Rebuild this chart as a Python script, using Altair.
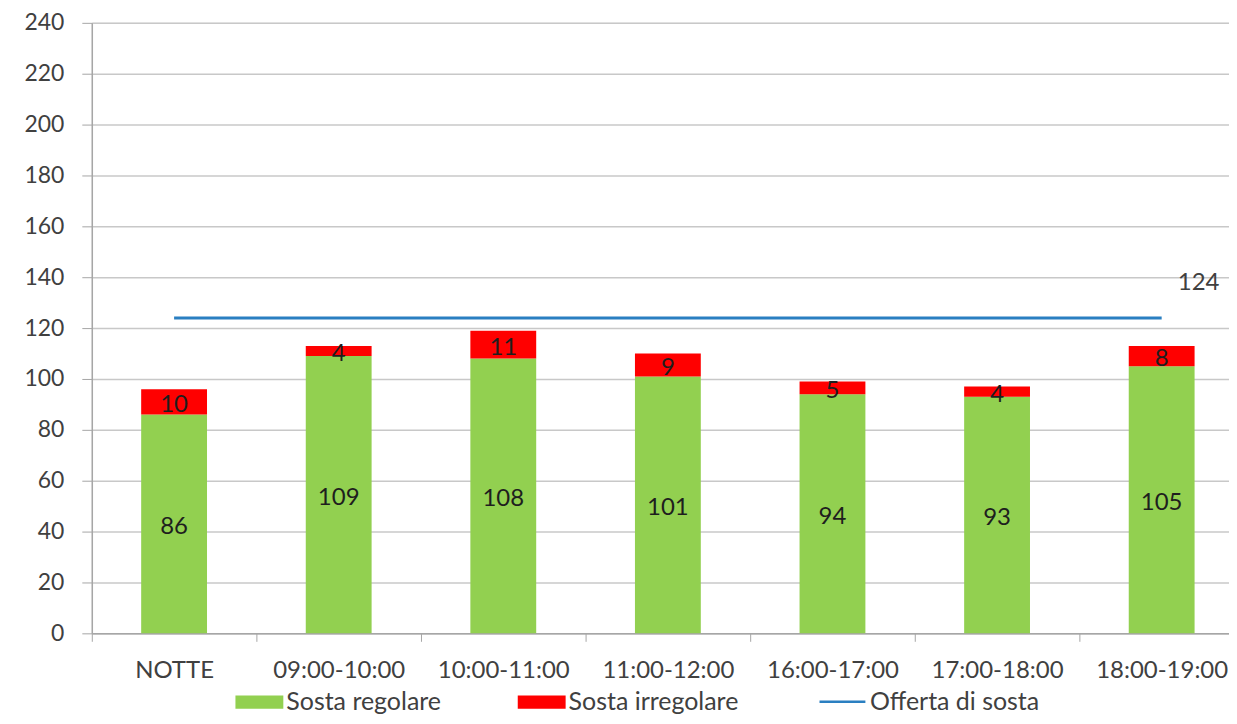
import altair as alt
import pandas as pd

categorie = ["NOTTE", "09:00-10:00", "10:00-11:00", "11:00-12:00",
             "16:00-17:00", "17:00-18:00", "18:00-19:00"]
sosta_regolare = [86, 109, 108, 101, 94, 93, 105]
sosta_irregolare = [10, 4, 11, 9, 5, 4, 8]
offerta_sosta = [124, 124, 124, 124, 124, 124, 124]
y_ticks = list(range(0, 241, 20))

serie_nomi = ["Sosta regolare", "Sosta irregolare"]
serie_colori = ["#92D050", "#FF0000"]

rows = []
for c, r, i in zip(categorie, sosta_regolare, sosta_irregolare):
    rows.append({"cat": c, "serie": serie_nomi[0], "valore": r, "ordine": 0})
    rows.append({"cat": c, "serie": serie_nomi[1], "valore": i, "ordine": 1})
df = pd.DataFrame(rows)
df_line = pd.DataFrame({"cat": categorie, "valore": offerta_sosta, "serie": ["Offerta di sosta"] * len(categorie)})

FONT = "Lato"
FS = 24
FSL = 25
W, H = 1140, 612

x_enc = alt.X("cat:N", sort=categorie,
              scale=alt.Scale(range=[0, 1155], paddingInner=0, paddingOuter=0),
              axis=alt.Axis(title=None, labelAngle=0, labelFontSize=FS, labelColor="#404040",
                            labelFont=FONT, tickBand="extent", tickSize=8, tickColor="#a6a6a6",
                            domainColor="#a6a6a6", domainWidth=1.5, grid=False, labelPadding=17))
y_scale = alt.Scale(domain=[0, 240], nice=False)
y_axis = alt.Axis(title=None, values=y_ticks, labelFontSize=23, labelColor="#404040", labelFont=FONT,
                  grid=True, gridColor="#c8c8c8", gridWidth=1.5, tickSize=10, tickColor="#a6a6a6",
                  domainColor="#a6a6a6", domainWidth=1.5, labelPadding=18)

base = alt.Chart(df).transform_stack(
    stack="valore", groupby=["cat"], as_=["y0", "y1"], sort=[alt.SortField("ordine")]
).transform_calculate(mid="(datum.y0 + datum.y1) / 2")

bars = base.mark_bar(width=alt.RelativeBandSize(0.4)).encode(
    x=x_enc,
    y=alt.Y("y0:Q", scale=y_scale, axis=y_axis),
    y2="y1:Q",
    fill=alt.Fill("serie:N", scale=alt.Scale(domain=serie_nomi, range=serie_colori),
                  legend=alt.Legend(title=None, orient="none", direction="horizontal",
                                    legendX=144, legendY=657,
                                    symbolType="M-1,-0.28H1V0.28H-1Z", symbolSize=2304,
                                    symbolStrokeWidth=0, symbolOpacity=1,
                                    labelFontSize=FSL, labelFont=FONT, labelColor="#404040",
                                    labelLimit=400,
                                    labelOffset=3, columnPadding=76, padding=0)),
)

labels = base.mark_text(fontSize=FS, font=FONT, color="#1e1e1e", baseline="middle", dy=3).encode(
    x=alt.X("cat:N", sort=categorie),
    y=alt.Y("mid:Q"),
    text=alt.Text("valore:Q"),
)

line = alt.Chart(df_line).mark_line(strokeWidth=3).encode(
    x=alt.X("cat:N", sort=categorie),
    y=alt.Y("valore:Q"),
    stroke=alt.Stroke("serie:N", scale=alt.Scale(domain=["Offerta di sosta"], range=["#2a7fc1"]),
                      legend=alt.Legend(title=None, orient="none", direction="horizontal",
                                        legendX=728, legendY=656,
                                        symbolType="stroke", symbolSize=2116, symbolStrokeWidth=2.5,
                                        labelFontSize=FSL, labelFont=FONT, labelColor="#404040",
                                        labelLimit=400,
                                        labelOffset=3, padding=0)),
)

line_label = alt.Chart(df_line.iloc[[-1]]).mark_text(
    fontSize=FS, font=FONT, color="#404040", dx=37, dy=-35
).encode(
    x=alt.X("cat:N", sort=categorie),
    y=alt.Y("valore:Q"),
    text=alt.Text("valore:Q"),
)

chart = alt.layer(bars, line, labels, line_label).properties(
    width=W, height=H,
    padding={"left": 84, "top": 14, "right": 0, "bottom": 82},
    autosize=alt.AutoSizeParams(type="none"),
).configure_view(stroke=None).configure(font=FONT)

chart.save("out.html", embed_options={"renderer": "svg", "actions": False})
